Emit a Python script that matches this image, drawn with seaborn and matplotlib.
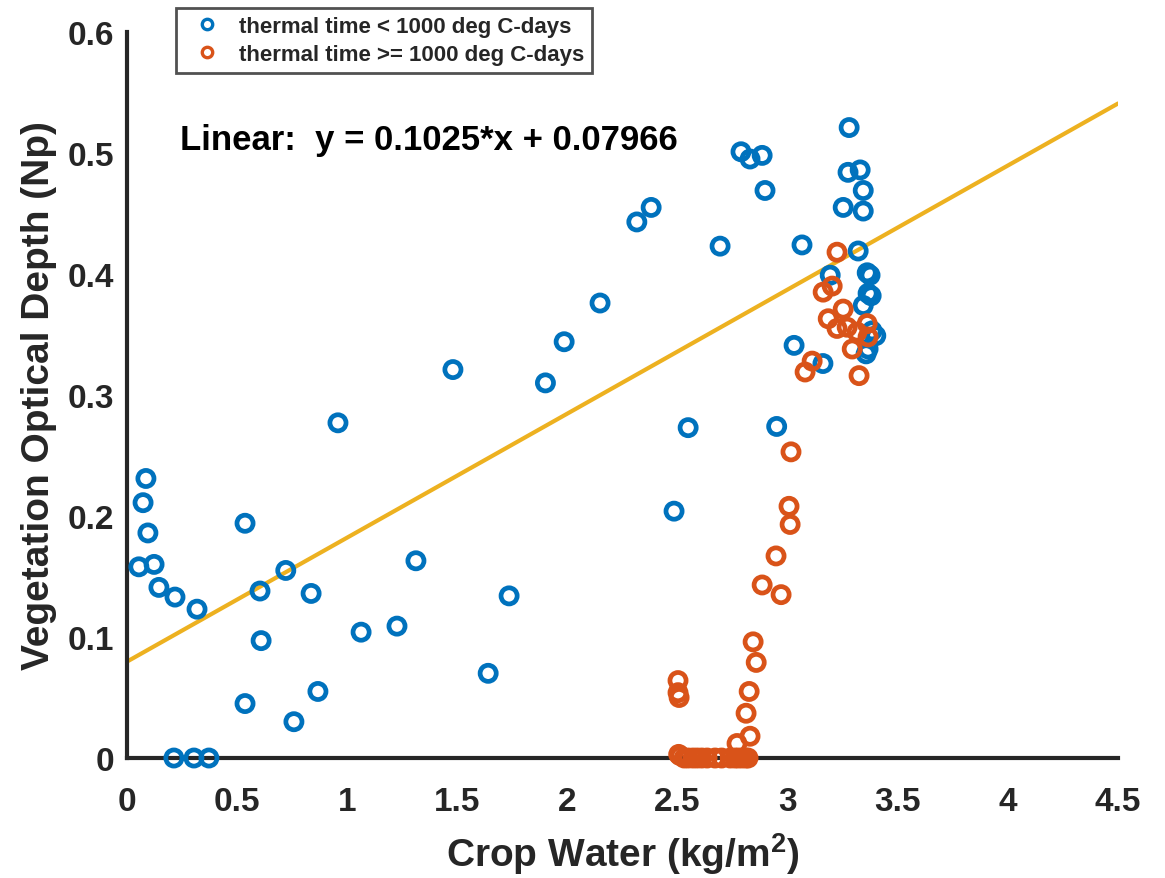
import numpy as np
import matplotlib
matplotlib.use("Agg")
import matplotlib.pyplot as plt
from matplotlib.lines import Line2D
import seaborn as sns

# points
blue_x = [0.086, 0.073, 0.095, 0.054, 0.123, 0.145, 0.218, 0.318, 0.213, 0.304,
          0.372, 0.536, 0.604, 0.609, 0.536, 0.721, 0.836, 0.867, 0.758, 0.958,
          1.063, 1.226, 1.312, 1.480, 1.640, 1.735, 1.900, 1.985, 2.148, 2.315,
          2.380, 2.484, 2.548, 2.693, 2.788, 2.829, 2.884, 2.897, 3.029, 3.065,
          3.160, 2.950, 3.279, 3.274, 3.329, 3.343, 3.252, 3.343, 3.320, 3.193,
          3.361, 3.374, 3.365, 3.379, 3.343, 3.383, 3.400, 3.365, 3.356]
blue_y = [0.231, 0.211, 0.186, 0.158, 0.160, 0.141, 0.133, 0.123, 0.000, 0.000,
          0.000, 0.194, 0.138, 0.097, 0.045, 0.155, 0.136, 0.055, 0.030, 0.277,
          0.104, 0.109, 0.163, 0.321, 0.070, 0.134, 0.310, 0.344, 0.376, 0.443,
          0.455, 0.204, 0.273, 0.423, 0.501, 0.495, 0.498, 0.469, 0.341, 0.424,
          0.326, 0.274, 0.521, 0.484, 0.486, 0.469, 0.455, 0.452, 0.419, 0.399,
          0.401, 0.399, 0.384, 0.382, 0.374, 0.353, 0.349, 0.338, 0.334]

orange_x = [3.224, 3.202, 3.161, 3.252, 3.184, 3.224, 3.270, 3.315, 3.361, 3.365,
            3.293, 3.111, 3.079, 3.324, 3.015, 3.006, 3.011, 2.947, 2.884, 2.970,
            2.843, 2.857, 2.502, 2.502, 2.507, 2.825, 2.811, 2.829, 2.770,
            2.505, 2.511, 2.530, 2.548, 2.570, 2.589, 2.610, 2.634, 2.670, 2.700,
            2.739, 2.760, 2.775, 2.793, 2.811, 2.820]
orange_y = [0.418, 0.390, 0.385, 0.371, 0.363, 0.355, 0.356, 0.352, 0.359, 0.348,
            0.338, 0.328, 0.319, 0.316, 0.253, 0.208, 0.193, 0.167, 0.143, 0.135,
            0.096, 0.079, 0.064, 0.054, 0.050, 0.055, 0.037, 0.018, 0.012,
            0.003, 0.002, 0.000, 0.000, 0.000, 0.000, 0.000, 0.000, 0.000, 0.000,
            0.000, 0.000, 0.000, 0.000, 0.000, 0.000]

labels = ["thermal time < 1000 deg C-days", "thermal time >= 1000 deg C-days"]
fit_slope = 0.1025
fit_intercept = 0.07966
fit_x = [0.0, 4.5]

xticks = [0, 0.5, 1, 1.5, 2, 2.5, 3, 3.5, 4, 4.5]
xticklabels = ["0", "0.5", "1", "1.5", "2", "2.5", "3", "3.5", "4", "4.5"]
yticks = [0, 0.1, 0.2, 0.3, 0.4, 0.5, 0.6]
yticklabels = ["0", "0.1", "0.2", "0.3", "0.4", "0.5", "0.6"]

sns.set_style("white")
plt.rcParams["font.family"] = ["Liberation Sans", "DejaVu Sans"]
plt.rcParams["font.weight"] = "bold"
plt.rcParams["mathtext.fontset"] = "custom"
plt.rcParams["mathtext.rm"] = "Liberation Sans:bold"
plt.rcParams["mathtext.it"] = "Liberation Sans:bold"
plt.rcParams["mathtext.bf"] = "Liberation Sans:bold"

blue = "#0072BD"
orange = "#D95319"
gold = "#EDB120"
dark = "#262626"

fig = plt.figure(figsize=(11.65, 8.79), dpi=100)
ax = fig.add_axes([0.109, 0.1365, 0.8507, 0.826])

for xs, ys, c, lab in [(blue_x, blue_y, blue, labels[0]), (orange_x, orange_y, orange, labels[1])]:
    sns.scatterplot(x=xs, y=ys, ax=ax, marker="o", s=135, facecolors="none",
                    edgecolor=c, linewidth=3.4, clip_on=False, zorder=3, label=lab)

fit_y = [fit_slope * v + fit_intercept for v in fit_x]
sns.lineplot(x=fit_x, y=fit_y, ax=ax, color=gold, linewidth=3, zorder=2)

ax.text(0.24, 0.511, "Linear:  y = 0.1025*x + 0.07966", fontsize=25,
        fontweight="bold", va="center", ha="left", color="black")

ax.set_xlim(0, 4.5)
ax.set_ylim(0, 0.6)
ax.set_xticks(xticks)
ax.set_xticklabels(xticklabels)
ax.set_yticks(yticks)
ax.set_yticklabels(yticklabels)
ax.tick_params(direction="in", length=10, width=2.5, colors=dark,
               labelsize=24, labelcolor=dark)
ax.tick_params(axis="x", pad=20)
ax.tick_params(axis="y", pad=9)
for lab in ax.get_xticklabels() + ax.get_yticklabels():
    lab.set_fontweight("bold")
for side in ["top", "right"]:
    ax.spines[side].set_visible(False)
for side in ["left", "bottom"]:
    ax.spines[side].set_linewidth(3)
    ax.spines[side].set_color(dark)

ax.set_xlabel("Crop Water (kg/m$^{2}$)", fontsize=28, fontweight="bold", color=dark, labelpad=10)
ax.set_ylabel("Vegetation Optical Depth (Np)", fontsize=28, fontweight="bold", color=dark, labelpad=8)

handles = [Line2D([], [], linestyle="none", marker="o", markersize=7.5, markerfacecolor="none",
                  markeredgecolor=c, markeredgewidth=2.4) for c in (blue, orange)]
leg = ax.legend(handles, labels, loc="upper left", bbox_to_anchor=(0.151, 0.9898),
                bbox_transform=fig.transFigure, fontsize=16, frameon=True, fancybox=False,
                handletextpad=0.4, labelspacing=0.3, borderpad=0.36, handlelength=2.07,
                borderaxespad=0)
leg.get_frame().set_edgecolor(dark)
leg.get_frame().set_linewidth(2)
for t in leg.get_texts():
    t.set_fontweight("bold")

fig.savefig("out.png", dpi=100)
